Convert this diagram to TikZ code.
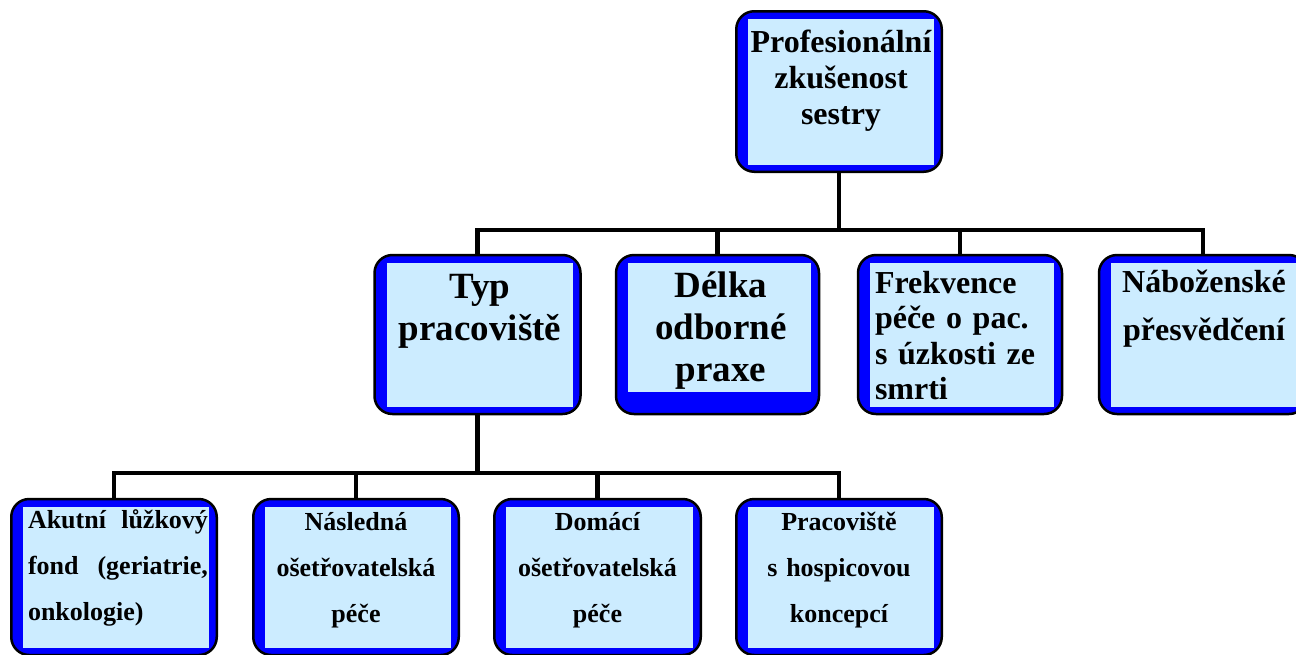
\documentclass[tikz,border=0pt]{standalone}
\usepackage{fontspec}
\setmainfont{Liberation Serif}
\usepackage{xcolor}
\definecolor{boxblue}{HTML}{0000FF}
\definecolor{boxlight}{HTML}{CCECFF}
\usepackage{tikz}
\usetikzlibrary{positioning,calc}
\tikzset{inner bottom/.store in=\innerbot, inner bottom=7pt}
\tikzstyle{box} = [rectangle, draw, fill=boxblue, rounded corners=18pt, line width=2.5pt,
minimum width=206pt, minimum height=159pt, inner sep=0pt,
path picture={\fill[boxlight, sharp corners] ([shift={(12pt,\innerbot)}]path picture bounding box.south west) rectangle ([shift={(-8pt,-8pt)}]path picture bounding box.north east);}]
\tikzstyle{line} = [draw, line width=4.5pt]
\tikzstyle{big} = [font=\fontsize{37}{42}\selectfont\bfseries, inner sep=0pt, anchor=base, align=center]
\tikzstyle{mid} = [font=\fontsize{32}{35}\selectfont\bfseries, inner sep=0pt, anchor=base, align=center]
\tikzstyle{small} = [font=\fontsize{26}{46}\selectfont\bfseries, inner sep=0pt, anchor=base, align=center]

\begin{document}
\begin{tikzpicture}[x=1pt, y=-1pt]
    \useasboundingbox (0,0) rectangle (1296,654);
    % Nodes
    \node [box, minimum width=205.5pt, minimum height=160.5pt] (prof) at (839,91.5) {};
    \node [mid, text width=190pt, font=\fontsize{32}{36}\selectfont\bfseries] (prof_text) at (841,52) {Profesionální\\zkušenost\\sestry};

    \node [box] (typ) at (477.5,334.5) {};
    \node [big, text width=200pt] (typ_text) at (480,298) {Typ\\pracoviště};
    \node [box, minimum width=203pt, inner bottom=22pt] (delka) at (717.5,334.5) {};
    \node [big, text width=200pt] (delka_text) at (721,297) {Délka\\odborné\\praxe};
    \node [box, minimum width=204pt] (frek) at (960,334.5) {};
    \node [mid, text width=185pt, align=left, font=\fontsize{32}{35.5}\selectfont\bfseries] (frek_text) at (967.5,293) {Frekvence\\péče o pac.\\s úzkosti ze\\smrti};
    \node [box, minimum width=208pt] (nab) at (1203,334.5) {};
    \node [mid, text width=200pt, font=\fontsize{32}{48}\selectfont\bfseries] (nab_text) at (1204,292) {Náboženské\\přesvědčení};

    \node [box, minimum width=205.5pt, minimum height=156pt] (akut) at (114,577) {};
    \node [small, text width=180pt, align=left] (akut_text) at (118,528) {Akutní\hfill lůžkový\\fond\hfill(geriatrie,\\onkologie)};
    \node [box, minimum width=205.5pt, minimum height=156pt] (nasl) at (356,577) {};
    \node [small, text width=190pt] (nasl_text) at (356,530) {Následná\\ošetřovatelská\\péče};
    \node [box, minimum width=206.5pt, minimum height=156pt] (doma) at (597.5,577) {};
    \node [small, text width=190pt] (doma_text) at (597.5,530) {Domácí\\ošetřovatelská\\péče};
    \node [box, minimum width=205.5pt, minimum height=156pt] (prac) at (839,577) {};
    \node [small, text width=190pt] (prac_text) at (839,530) {Pracoviště\\s hospicovou\\koncepcí};

    % Connectors
    \coordinate (bus_top) at (0,230);
    \coordinate (bus_low) at (0,473);
    \draw [line] (prof.south) -- (prof.south |- bus_top);
    \draw [line] (typ.north) |- (nab.north |- bus_top) -- (nab.north);
    \draw [line] (delka.north) -- (delka.north |- bus_top);
    \draw [line] (frek.north) -- (frek.north |- bus_top);

    \draw [line] (typ.south) -- (typ.south |- bus_low);
    \draw [line] (akut.north) |- (prac.north |- bus_low) -- (prac.north);
    \draw [line] (nasl.north) -- (nasl.north |- bus_low);
    \draw [line] (doma.north) -- (doma.north |- bus_low);

\end{tikzpicture}
\end{document}
